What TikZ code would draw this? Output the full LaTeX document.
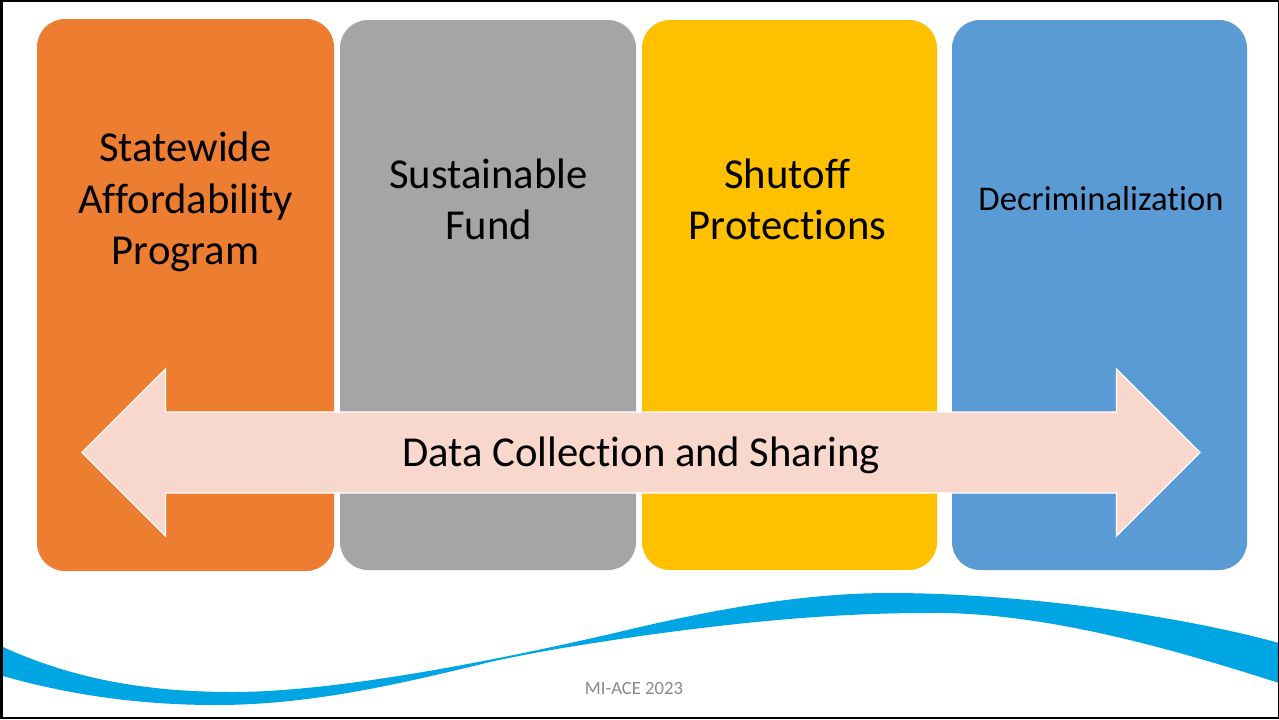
\documentclass[tikz,border=0pt]{standalone}
\usepackage{fontspec}
\setmainfont{Carlito}[Ligatures=NoCommon]
\usetikzlibrary{shapes.arrows}
\definecolor{cOrange}{HTML}{ED7D31}
\definecolor{cGray}{HTML}{A5A5A5}
\definecolor{cYellow}{HTML}{FFC000}
\definecolor{cBlue}{HTML}{5B9BD5}
\definecolor{cArrow}{HTML}{F8D7CC}
\definecolor{cWave}{HTML}{00A5E3}
\definecolor{cFoot}{HTML}{898989}
\tikzset{
  x=0.75pt,y=-0.75pt,
  pillar/.style={rounded corners=21pt,draw=none},
  pillartext/.style={align=center,text=black,font=\fontsize{32pt}{38.4pt}\selectfont,inner sep=0pt},
  wave/.style={fill=cWave,draw=none},
}
\begin{document}
\begin{tikzpicture}
\useasboundingbox (0,0) rectangle (1279,719);
\fill[white] (0,0) rectangle (1279,719);
% wave
\fill[wave] (3,647) .. controls (75,680) and (150,692) .. (233,692)
  .. controls (340,692) and (510,658) .. (640,627)
  .. controls (710,611) and (800,593) .. (890,593)
  .. controls (1010,593) and (1170,613) .. (1279,643)
  -- (1279,683)
  .. controls (1170,648) and (1040,611) .. (926,613)
  .. controls (820,613) and (720,625) .. (640,636)
  .. controls (580,645) and (540,651) .. (490,662)
  .. controls (400,684) and (310,705) .. (216,705)
  .. controls (140,705) and (70,695) .. (3,676) -- cycle;
% pillars
\fill[pillar,cOrange] (37,19) rectangle (334,571);
\fill[pillar,cGray] (340,20) rectangle (636,570);
\fill[pillar,cYellow] (642,20) rectangle (937,570);
\fill[pillar,cBlue] (952,20) rectangle (1247,570);
\node[pillartext] (a) at (185.5,202) {Statewide\\Affordability\\Program};
\node[pillartext] (b) at (488.5,199.5) {Sustainable\\Fund};
\node[pillartext] (c) at (787.5,199.5) {Shutoff\\Protections};
\node[pillartext,font=\fontsize{26pt}{30pt}\selectfont] (d) at (1101,199) {Decriminalization};
% arrow
\node[double arrow,draw=white,line width=1pt,fill=cArrow,text=black,
  minimum width=125.25pt,minimum height=838.5pt,
  double arrow head extend=31.5pt,double arrow head indent=0pt,double arrow tip angle=90,
  inner xsep=0pt,inner ysep=15.4pt,font=\fontsize{32pt}{38pt}\selectfont] (arrow) at (641,452.5) {\raisebox{-2pt}[\height][\depth]{Data Collection and Sharing}};
\node[text=cFoot,font=\fontsize{14pt}{16pt}\selectfont,inner sep=0pt] (foot) at (634,688) {MI-ACE 2023};
% frame
\draw[black,line width=2.25pt] (1.5,0) -- (1.5,719);
\draw[black,line width=1.5pt] (0,1) -- (1279,1);
\draw[black,line width=1.5pt] (0,718) -- (1279,718);
\draw[black,line width=1pt] (1278.5,0) -- (1278.5,719);
\end{tikzpicture}
\end{document}
